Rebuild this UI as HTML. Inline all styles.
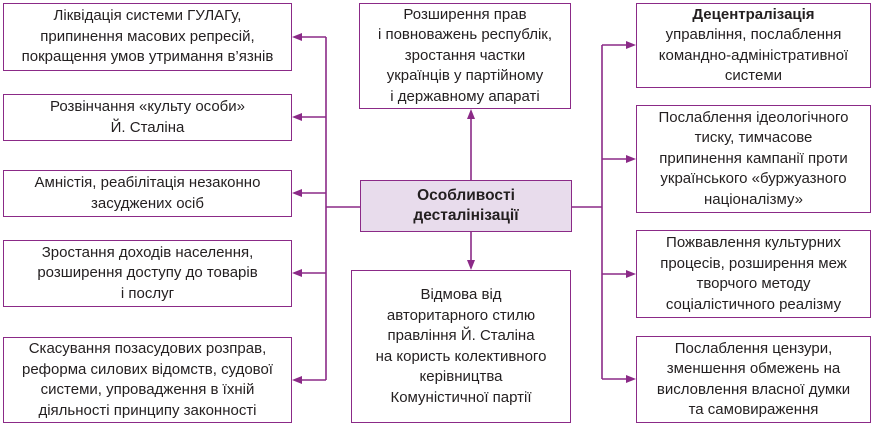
<html><head><style>
body{margin:0;width:875px;height:426px;background:#fff;position:relative;font-family:"Liberation Sans",sans-serif;overflow:hidden}
.b{position:absolute;border:1.5px solid #8b2a87;box-sizing:border-box;display:flex;align-items:center;justify-content:center;text-align:center;font-size:15px;line-height:20.5px;color:#231f20;background:#fff}
svg{position:absolute;left:0;top:0}
</style></head><body>
<svg width="875" height="426">
<g stroke="#8b2a87" stroke-width="1.6" fill="none">
<line x1="326" y1="37" x2="326" y2="380"/>
<line x1="602" y1="45" x2="602" y2="379"/>
<line x1="326" y1="207" x2="361" y2="207"/>
<line x1="571" y1="207" x2="602" y2="207"/>
<line x1="471" y1="115" x2="471" y2="181"/>
<line x1="471" y1="232" x2="471" y2="264"/>
<line x1="296" y1="37" x2="326" y2="37"/>
<line x1="296" y1="117" x2="326" y2="117"/>
<line x1="296" y1="193" x2="326" y2="193"/>
<line x1="296" y1="273" x2="326" y2="273"/>
<line x1="296" y1="380" x2="326" y2="380"/>
<line x1="602" y1="45" x2="630" y2="45"/>
<line x1="602" y1="159" x2="630" y2="159"/>
<line x1="602" y1="274" x2="630" y2="274"/>
<line x1="602" y1="379" x2="630" y2="379"/>
</g>
<g fill="#8b2a87">
<polygon points="292,37 302,33 302,41"/>
<polygon points="292,117 302,113 302,121"/>
<polygon points="292,193 302,189 302,197"/>
<polygon points="292,273 302,269 302,277"/>
<polygon points="292,380 302,376 302,384"/>
<polygon points="636,45 626,41 626,49"/>
<polygon points="636,159 626,155 626,163"/>
<polygon points="636,274 626,270 626,278"/>
<polygon points="636,379 626,375 626,383"/>
<polygon points="471,109 467,119 475,119"/>
<polygon points="471,270 467,260 475,260"/>
</g>
</svg>
<div class="b" style="left:3px;top:3px;width:289px;height:68px">Ліквідація системи ГУЛАГу,<br>припинення масових репресій,<br>покращення умов утримання в’язнів</div>
<div class="b" style="left:3px;top:94px;width:289px;height:47px">Розвінчання «культу особи»<br>Й. Сталіна</div>
<div class="b" style="left:3px;top:170px;width:289px;height:47px">Амністія, реабілітація незаконно<br>засуджених осіб</div>
<div class="b" style="left:3px;top:240px;width:289px;height:67px">Зростання доходів населення,<br>розширення доступу до товарів<br>і послуг</div>
<div class="b" style="left:3px;top:337px;width:289px;height:86px">Скасування позасудових розправ,<br>реформа силових відомств, судової<br>системи, упровадження в їхній<br>діяльності принципу законності</div>
<div class="b" style="left:359px;top:3px;width:212px;height:106px">Розширення прав<br>і повноважень республік,<br>зростання частки<br>українців у партійному<br>і державному апараті</div>
<div class="b" style="left:360px;top:180px;width:212px;height:52px;background:#e8dcec;font-weight:bold;font-size:15.5px">Особливості<br>десталінізації</div>
<div class="b" style="left:351px;top:270px;width:220px;height:153px">Відмова від<br>авторитарного стилю<br>правління Й. Сталіна<br>на користь колективного<br>керівництва<br>Комуністичної партії</div>
<div class="b" style="left:636px;top:3px;width:235px;height:85px"><div><b>Децентралізація</b><br>управління, послаблення<br>командно-адміністративної<br>системи</div></div>
<div class="b" style="left:636px;top:105px;width:235px;height:108px">Послаблення ідеологічного<br>тиску, тимчасове<br>припинення кампанії проти<br>українського «буржуазного<br>націоналізму»</div>
<div class="b" style="left:636px;top:230px;width:235px;height:88px">Пожвавлення культурних<br>процесів, розширення меж<br>творчого методу<br>соціалістичного реалізму</div>
<div class="b" style="left:636px;top:336px;width:235px;height:87px">Послаблення цензури,<br>зменшення обмежень на<br>висловлення власної думки<br>та самовираження</div>
</body></html>
